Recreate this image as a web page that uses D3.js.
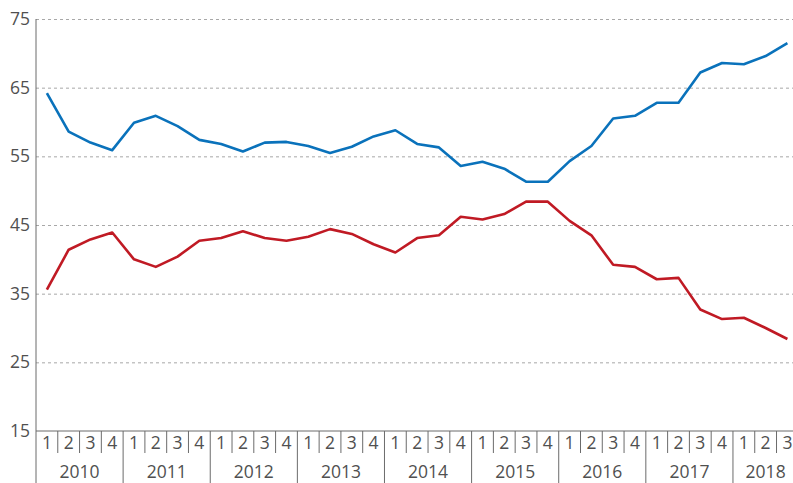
<!DOCTYPE html>
<html lang="en">
<head>
  <meta charset="UTF-8">
  <title>Quarterly series 2010–2018</title>
  <script src="https://d3js.org/d3.v7.min.js"></script>
  <style>
    body {
      margin: 0;
      background: #fff;
      font-family: "Open Sans", Arial, sans-serif;
    }
    #chart svg {
      display: block;
    }
  </style>
</head>
<body>
  <div id="chart"></div>
  <script>
    const years = ['2010', '2011', '2012', '2013', '2014', '2015', '2016', '2017', '2018'];
    const quarterLabels = ['1', '2', '3', '4'];
    const yTicks = [15, 25, 35, 45, 55, 65, 75];

    const blueValues = [
      64.2, 58.6, 57.0, 55.9,
      59.9, 60.9, 59.4, 57.4,
      56.8, 55.7, 57.0, 57.1,
      56.5, 55.5, 56.4, 57.9,
      58.8, 56.8, 56.3, 53.6,
      54.2, 53.2, 51.3, 51.3,
      54.3, 56.5, 60.5, 60.9,
      62.8, 62.8, 67.2, 68.6,
      68.4, 69.6, 71.5
    ];
    const redValues = [
      35.6, 41.4, 42.9, 43.9,
      40.0, 38.9, 40.4, 42.7,
      43.1, 44.1, 43.1, 42.7,
      43.3, 44.4, 43.7, 42.2,
      41.0, 43.1, 43.5, 46.2,
      45.8, 46.6, 48.4, 48.4,
      45.6, 43.5, 39.2, 38.9,
      37.1, 37.3, 32.7, 31.3,
      31.5, 30.0, 28.4
    ];

    // one entry per quarter, in order
    const periods = blueValues.map((_, i) => ({
      year: years[Math.floor(i / 4)],
      quarter: quarterLabels[i % 4],
      index: i
    }));

    const W = 793, H = 483;
    const plotLeft = 36, plotTop = 19, plotBottom = 431;
    const bandW = 21.78;

    const svg = d3.select('#chart').append('svg')
      .attr('width', W)
      .attr('height', H);

    const x = d3.scaleBand()
      .domain(periods.map(p => p.index))
      .range([plotLeft, plotLeft + bandW * periods.length])
      .padding(0);
    const y = d3.scaleLinear()
      .domain([15, 75])
      .range([plotBottom, plotTop]);

    const textColor = '#505050';
    const axisColor = '#6b6b6b';
    const fontSize = '17.5px';

    // gridlines + y labels
    const yAxis = svg.append('g')
      .attr('transform', `translate(${plotLeft},0)`)
      .call(d3.axisLeft(y).tickValues(yTicks).tickSize(-(W - plotLeft)).tickPadding(6));
    yAxis.select('.domain').remove();
    yAxis.selectAll('.tick line')
      .attr('stroke', d => d === 15 ? 'none' : '#a8a8a8')
      .attr('stroke-dasharray', '3,3');
    yAxis.selectAll('.tick text')
      .attr('fill', textColor)
      .style('font-family', '"Open Sans", Arial, sans-serif')
      .style('font-size', fontSize);

    // axis lines
    svg.append('line')
      .attr('x1', plotLeft).attr('x2', plotLeft)
      .attr('y1', plotTop).attr('y2', H)
      .attr('stroke', axisColor).attr('stroke-width', 1);
    svg.append('line')
      .attr('x1', plotLeft).attr('x2', W)
      .attr('y1', y(15)).attr('y2', y(15))
      .attr('stroke', axisColor).attr('stroke-width', 1);

    // quarter separators (short) and year separators (long)
    svg.append('g').selectAll('line')
      .data(periods.filter(p => p.index > 0))
      .join('line')
      .attr('x1', d => x(d.index)).attr('x2', d => x(d.index))
      .attr('y1', y(15))
      .attr('y2', d => d.quarter === '1' ? H : y(15) + 22)
      .attr('stroke', axisColor)
      .attr('stroke-width', 1);

    svg.append('g').selectAll('text')
      .data(periods)
      .join('text')
      .attr('x', d => x(d.index) + x.bandwidth() / 2)
      .attr('y', 443)
      .attr('dy', '0.35em')
      .attr('text-anchor', 'middle')
      .attr('fill', textColor)
      .style('font-size', fontSize)
      .text(d => d.quarter);

    const yearGroups = d3.groups(periods, d => d.year);
    svg.append('g').selectAll('text')
      .data(yearGroups)
      .join('text')
      .attr('x', ([, ps]) => (x(ps[0].index) + x(ps[ps.length - 1].index) + x.bandwidth()) / 2)
      .attr('y', 472)
      .attr('dy', '0.35em')
      .attr('text-anchor', 'middle')
      .attr('fill', textColor)
      .style('font-size', fontSize)
      .text(([yr]) => yr);

    // lines
    const line = d3.line()
      .x((d, i) => x(i) + x.bandwidth() / 2)
      .y(d => y(d));

    svg.append('path')
      .datum(redValues)
      .attr('fill', 'none')
      .attr('stroke', '#c01a24')
      .attr('stroke-width', 2.6)
      .attr('stroke-linejoin', 'round')
      .attr('d', line);

    svg.append('path')
      .datum(blueValues)
      .attr('fill', 'none')
      .attr('stroke', '#0a72bb')
      .attr('stroke-width', 2.6)
      .attr('stroke-linejoin', 'round')
      .attr('d', line);
  </script>
</body>
</html>
